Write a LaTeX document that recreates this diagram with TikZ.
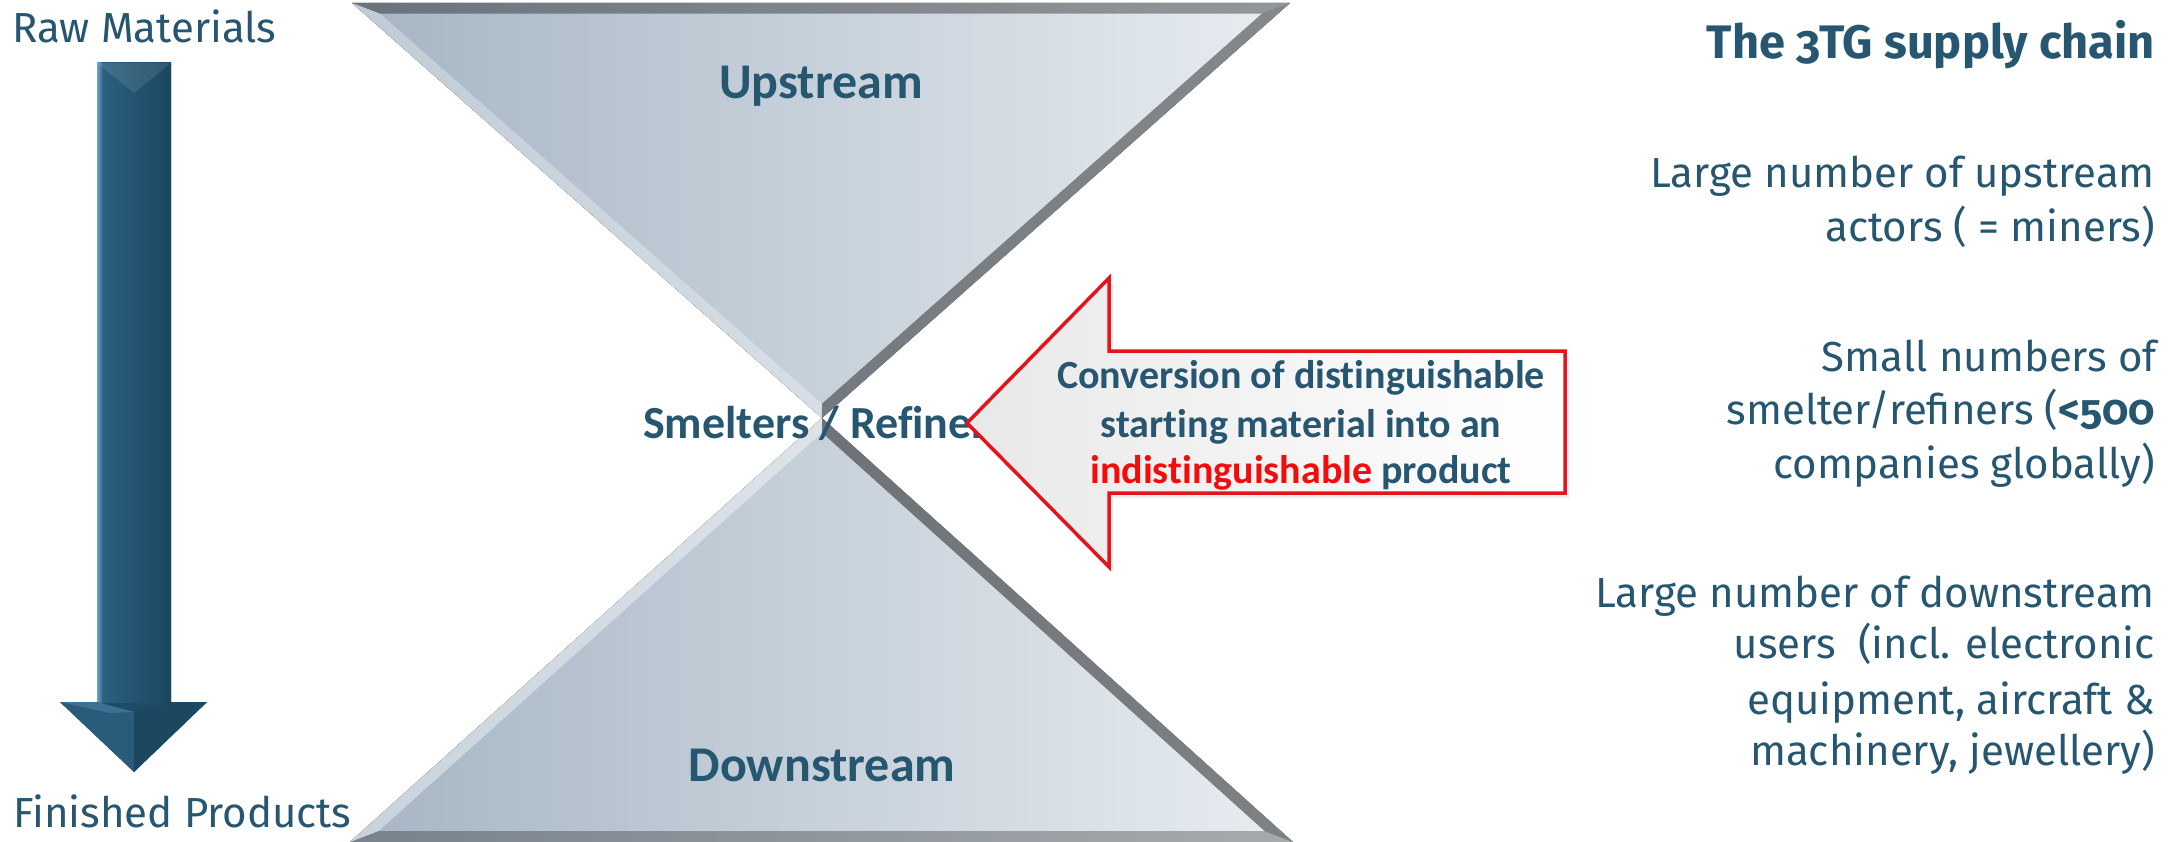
\documentclass[tikz,border=0pt]{standalone}
\usepackage{fontspec}
\setmainfont{Fira Sans}[Numbers=OldStyle]
\newfontfamily\calfont{Carlito}[Ligatures={NoCommon}]
\usetikzlibrary{calc}
\definecolor{txt}{HTML}{265670}
\definecolor{redtxt}{HTML}{F20C0C}
\definecolor{redline}{HTML}{E3141C}
\definecolor{triL}{HTML}{A6B5C4}
\definecolor{triR}{HTML}{E8EDF1}
\definecolor{arrA}{HTML}{6FA3C5}
\definecolor{arrB}{HTML}{2B6080}
\definecolor{arrC}{HTML}{1B4760}
\pgfdeclarehorizontalshading{shaftsh}{100bp}{color(0bp)=(arrA); color(25bp)=(arrA); color(29bp)=(arrB); color(45bp)=(arrB!60!arrC); color(75bp)=(arrC); color(100bp)=(arrC)}
\tikzset{
  sidetext/.style={inner sep=0pt, text=txt, font=\fontsize{42}{50}\selectfont},
  midtext/.style={inner sep=0pt, text=txt, font=\calfont\bfseries\fontsize{50}{60}\selectfont},
  calltext/.style={inner sep=0pt, text=txt, font=\calfont\bfseries\fontsize{40}{47}\selectfont},
  tri/.style={left color=triL, right color=triR},
}
\begin{document}
\begin{tikzpicture}[x=1pt,y=-1pt]
\useasboundingbox[fill=white] (0,0) rectangle (2176,842);

% ---------- hourglass ----------
\coordinate (A) at (352,3);
\coordinate (B) at (1290,3);
\coordinate (C) at (822,418);
\coordinate (Iu) at (821,180.7);
\coordinate (Ai) at ($(Iu)!0.94!(A)$);
\coordinate (Bi) at ($(Iu)!0.94!(B)$);
\coordinate (Ci) at ($(Iu)!0.94!(C)$);
\fill[tri] (A)--(B)--(C)--cycle;
\fill[black,opacity=.36] (A)--(B)--(Bi)--(Ai)--cycle;
\fill[black,opacity=.42] (B)--(C)--(Ci)--(Bi)--cycle;
\fill[white,opacity=.3] (A)--(C)--(Ci)--(Ai)--cycle;

\coordinate (D) at (350,842);
\coordinate (E) at (1293,842);
\coordinate (F) at (822,418);
\coordinate (Il) at (821.5,661.2);
\coordinate (Di) at ($(Il)!0.94!(D)$);
\coordinate (Ei) at ($(Il)!0.94!(E)$);
\coordinate (Fi) at ($(Il)!0.94!(F)$);
\fill[tri] (D)--(E)--(F)--cycle;
\fill[black,opacity=.28] (D)--(E)--(Ei)--(Di)--cycle;
\fill[black,opacity=.45] (E)--(F)--(Fi)--(Ei)--cycle;
\fill[white,opacity=.4] (D)--(F)--(Fi)--(Di)--cycle;

\node[midtext, anchor=base] (up) at (821,99) {Upstream};
\node[midtext, anchor=base] (down) at (822,781) {Downstream};
\node[midtext, anchor=base west, font=\calfont\bfseries\fontsize{46}{55}\selectfont] (smelt) at (643,438) {Smelters / Refiners};

% ---------- red callout arrow ----------
\fill[black,opacity=.07] (971,428)--(1113,283)--(1113,356)--(1569,356)--(1569,498)--(1113,498)--(1113,572)--cycle;
\filldraw[draw=redline, line width=3.5pt, line join=miter, left color=black!9, right color=white]
  (967,423)--(1109,278)--(1109,351)--(1565,351)--(1565,493)--(1109,493)--(1109,567)--cycle;
\node[calltext, anchor=base] (c1) at (1301,388) {Conversion of distinguishable};
\node[calltext, anchor=base] (c2) at (1301,437) {starting material into an};
\node[calltext, anchor=base] (c3) at (1301,483) {\textcolor{redtxt}{indistinguishable} product};

% ---------- left flow arrow ----------
\fill[arrC!80!arrB] (97,63)--(171,63)--(171,702)--(207,702)--(134,772)--(60,702)--(97,702)--cycle;
\fill[shading=shaftsh] (97,63) rectangle (171,702);
\fill[white,opacity=.1] (97,63)--(171,63)--(134,93)--cycle;
\fill[arrB!85!arrC] (60,702)--(134,772)--(134,712)--(97,702)--cycle;
\fill[arrC] (207,702)--(134,772)--(134,712)--(171,702)--cycle;
\fill[arrA,opacity=.3] (60,702)--(97,702)--(134,712)--(110,713)--cycle;

\node[sidetext, anchor=base west] (raw) at (12,43) {Raw Materials};
\node[sidetext, anchor=base west] (fin) at (13,827) {Finished Products};

% ---------- right column ----------
\node[sidetext, anchor=base east, font=\bfseries\fontsize{47}{56}\selectfont] (title) at (2155,59) {The 3TG supply chain};
\node[sidetext, anchor=base east] (u1) at (2155,188) {Large number of upstream};
\node[sidetext, anchor=base east] (u2) at (2155,242) {actors ( = miners)};
\node[sidetext, anchor=base east] (s1) at (2157,371) {Small numbers of};
\node[sidetext, anchor=base east] (s2) at (2155,424) {smelter/refiners (\textbf{<500}};
\node[sidetext, anchor=base east] (s3) at (2155,478) {companies globally)};
\node[sidetext, anchor=base east] (d1) at (2155,607) {Large number of downstream};
\node[sidetext, anchor=base east] (d2) at (2155,658) {users~ (incl. electronic};
\node[sidetext, anchor=base east] (d3) at (2155,714) {equipment, aircraft \&};
\node[sidetext, anchor=base east] (d4) at (2155,765) {machinery, jewellery)};
\end{tikzpicture}
\end{document}
